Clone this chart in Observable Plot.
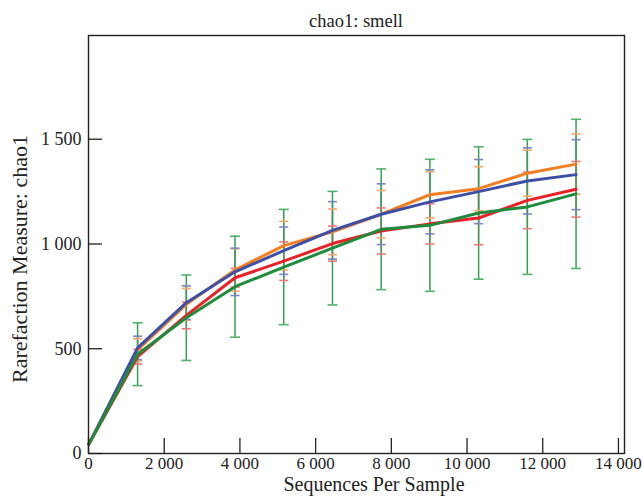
<!DOCTYPE html>
<html>
<head>
<meta charset="utf-8">
<script src="https://cdn.jsdelivr.net/npm/d3@7"></script>
<script src="https://cdn.jsdelivr.net/npm/@observablehq/plot@0.6"></script>
<style>
  html, body { margin: 0; padding: 0; background: #fff; }
  #chart svg { display: block; }
</style>
</head>
<body>
<div id="chart"></div>
<script>
// ---- data ----
const depths = [10, 1297, 2584, 3871, 5158, 6445, 7732, 9019, 10306, 11593, 12880];
const seriesNames = ["A", "B", "C", "D"];
const seriesColors = ["#f47f22", "#3d4fa6", "#ec2027", "#1f8c3d"];
const capColors = ["#f7a868", "#7b86c4", "#f2777b", "#4db066"];

const meanA = [45, 495, 712, 876, 992, 1058, 1142, 1235, 1264, 1338, 1381];
const sdA   = [0, 53, 76, 101, 116, 109, 113, 110, 105, 110, 144];
const meanB = [45, 504, 720, 867, 968, 1065, 1142, 1201, 1250, 1301, 1331];
const sdB   = [0, 56, 80, 113, 113, 137, 145, 153, 153, 158, 167];
const meanC = [45, 462, 659, 839, 918, 1002, 1062, 1096, 1124, 1208, 1261];
const sdC   = [0, 35, 64, 45, 92, 84, 110, 96, 128, 135, 133];
const meanD = [45, 474, 648, 796, 890, 980, 1070, 1089, 1148, 1177, 1239];
const sdD   = [0, 150, 204, 241, 275, 271, 288, 315, 316, 322, 356];

const xTicks = [0, 2000, 4000, 6000, 8000, 10000, 12000, 14000];
const yTicks = [0, 500, 1000, 1500];

const titleText = "chao1: smell";
const xLabel = "Sequences Per Sample";
const yLabel = "Rarefaction Measure: chao1";

// ---- build tables ----
const means = [meanA, meanB, meanC, meanD];
const sds = [sdA, sdB, sdC, sdD];
const tables = seriesNames.map((name, i) =>
  depths.map((d, j) => ({
    series: name,
    x: d,
    mean: means[i][j],
    lo: means[i][j] - sds[i][j],
    hi: means[i][j] + sds[i][j],
    sd: sds[i][j]
  }))
);

const fmtLocale = d3.formatLocale({decimal: ".", thousands: " ", grouping: [3], currency: ["", ""]});
const fmt = fmtLocale.format(",d");

const hbar = {
  draw(context, size) {
    const w = Math.sqrt(size / Math.PI);
    context.moveTo(-w, 0);
    context.lineTo(w, 0);
  }
};

// error bars: the widest (green) drawn last
const errOrder = [0, 1, 2, 3];
const errMarks = [];
for (const i of errOrder) {
  const data = tables[i].filter(d => d.sd > 0);
  errMarks.push(Plot.ruleX(data, {x: "x", y1: "lo", y2: "hi", stroke: i === 3 ? "#35a052" : capColors[i], strokeWidth: 1.5}));
}
for (const i of errOrder) {
  const data = tables[i].filter(d => d.sd > 0);
  const w = i === 3 ? 5 : 4.5;
  const c = i === 3 ? "#4fb36a" : capColors[i];
  errMarks.push(Plot.dot(data, {x: "x", y: "lo", symbol: hbar, r: w, stroke: c, strokeWidth: 1.6}));
  errMarks.push(Plot.dot(data, {x: "x", y: "hi", symbol: hbar, r: w, stroke: c, strokeWidth: 1.6}));
}

const lineOrder = [0, 1, 2, 3];
const lineMarks = lineOrder.map(i =>
  Plot.line(tables[i], {x: "x", y: "mean", stroke: seriesColors[i], strokeWidth: 3, strokeLinejoin: "round"})
);

const W = 642, H = 497;
const mL = 88, mR = 18, mT = 35, mB = 44;

const chart = Plot.plot({
  width: W,
  height: H,
  marginLeft: mL,
  marginRight: mR,
  marginTop: mT,
  marginBottom: mB,
  style: {fontFamily: "'Liberation Serif', 'DejaVu Serif', serif", fontSize: "18px", background: "#fff", color: "#222"},
  x: {domain: [0, 14160]},
  y: {domain: [0, 1995]},
  marks: [
    ...errMarks,
    ...lineMarks,
    Plot.axisX({ticks: xTicks, tickSize: -15, fill: "none", label: null, stroke: "#222", strokeWidth: 1.3}),
    Plot.axisX({ticks: xTicks, tickSize: 0, tickPadding: 3, tickFormat: fmt, label: null, fontSize: 17, fill: "#222"}),
    Plot.axisY({ticks: yTicks, tickSize: -14, fill: "none", label: null, stroke: "#222", strokeWidth: 1.3}),
    Plot.axisY({ticks: yTicks, tickSize: 0, tickPadding: 7, tickFormat: fmt, label: null, fontSize: 18, fill: "#222"}),
    Plot.frame({stroke: "#222", strokeWidth: 1.4})
  ]
});

document.getElementById("chart").appendChild(chart);

const svg = d3.select(chart.tagName.toLowerCase() === "svg" ? chart : chart.querySelector("svg"));
const fx = (mL + (W - mR)) / 2;
svg.append("text")
  .attr("x", fx).attr("y", 27)
  .attr("text-anchor", "middle")
  .attr("font-size", 18.5)
  .attr("fill", "#222")
  .text(titleText);
svg.append("text")
  .attr("x", 374).attr("y", 491)
  .attr("text-anchor", "middle")
  .attr("font-size", 20)
  .attr("fill", "#222")
  .text(xLabel);
svg.append("text")
  .attr("transform", "translate(27,259) rotate(-90)")
  .attr("text-anchor", "middle")
  .attr("font-size", 22)
  .attr("fill", "#222")
  .text(yLabel);
</script>
</body>
</html>
